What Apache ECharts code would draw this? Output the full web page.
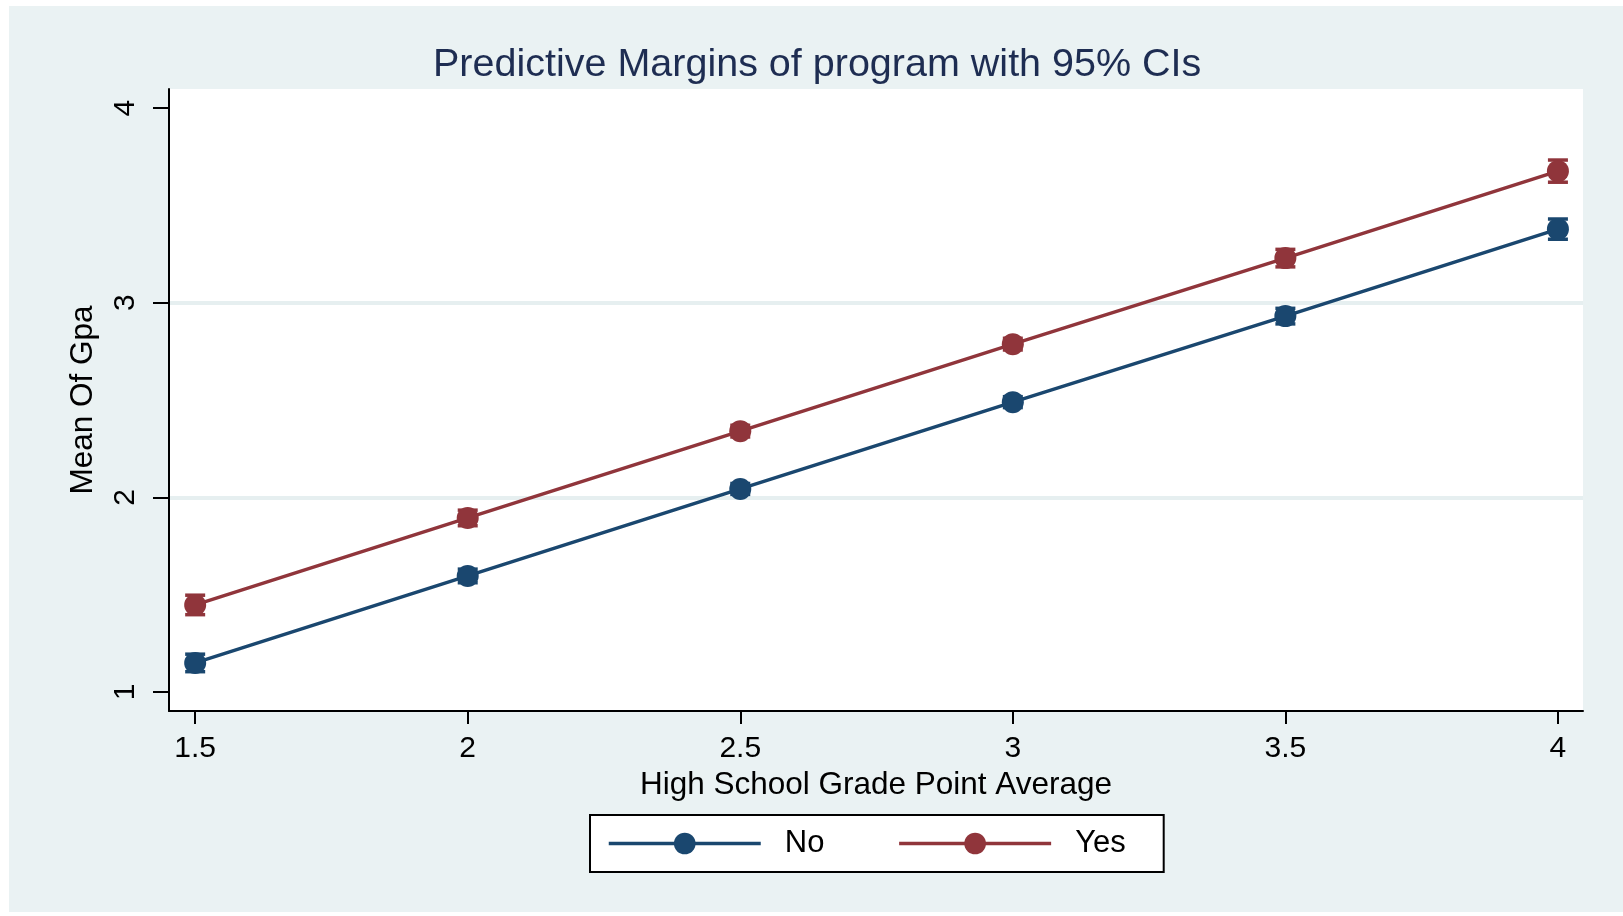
<!DOCTYPE html>
<html>
<head>
<meta charset="utf-8">
<title>Predictive Margins of program</title>
<script src="https://cdn.jsdelivr.net/npm/echarts@6/dist/echarts.min.js"></script>
<style>
  html, body { margin: 0; padding: 0; background: #fff; }
  #main { width: 1623px; height: 916px; }
</style>
</head>
<body>
<div id="main"></div>
<script>
// x categories / ticks
var gpaTicks = [1.5, 2, 2.5, 3, 3.5, 4];
var yTicks = [1, 2, 3, 4];

// predictive margins, program = No
var noMargins = [1.149, 1.596, 2.043, 2.489, 2.931, 3.378];
var noLower = [1.104, 1.561, 2.015, 2.461, 2.891, 3.326];
var noUpper = [1.194, 1.631, 2.071, 2.517, 2.971, 3.430];

// predictive margins, program = Yes
var yesMargins = [1.447, 1.894, 2.340, 2.787, 3.229, 3.676];
var yesLower = [1.397, 1.854, 2.310, 2.757, 3.184, 3.619];
var yesUpper = [1.497, 1.934, 2.370, 2.817, 3.274, 3.733];

var FONT = '"Liberation Sans", Arial, sans-serif';
var BLUE = '#1a476f';
var RED = '#90353b';

function pairs(xs, ys) {
    return xs.map(function (x, i) { return [x, ys[i]]; });
}

function ciData(xs, lo, hi) {
    return xs.map(function (x, i) { return [x, lo[i], hi[i]]; });
}

// draws the 95% CI capped spikes
function renderCI(color) {
    return function (params, api) {
        var x = api.value(0);
        var lo = api.coord([x, api.value(1)]);
        var hi = api.coord([x, api.value(2)]);
        var half = 10;
        var style = { stroke: color, lineWidth: 3.5 };
        return {
            type: 'group',
            children: [
                { type: 'line', shape: { x1: lo[0], y1: lo[1], x2: hi[0], y2: hi[1] }, style: style },
                { type: 'line', shape: { x1: lo[0] - half, y1: lo[1], x2: lo[0] + half, y2: lo[1] }, style: style },
                { type: 'line', shape: { x1: hi[0] - half, y1: hi[1], x2: hi[0] + half, y2: hi[1] }, style: style }
            ]
        };
    };
}

var myChart = echarts.init(document.getElementById('main'));

var option = {
    backgroundColor: '#ffffff',
    animation: false,
    graphic: [
        {
            type: 'rect',
            z: -10,
            silent: true,
            shape: { x: 9, y: 6, width: 1614, height: 906 },
            style: { fill: '#eaf2f3' }
        }
    ],
    title: {
        text: 'Predictive Margins of program with 95% CIs',
        left: 428,
        top: 40,
        textStyle: {
            fontFamily: FONT,
            fontSize: 39.5,
            fontWeight: 'normal',
            color: '#1e2d52'
        }
    },
    grid: {
        left: 169,
        top: 89,
        width: 1414,
        height: 622,
        show: true,
        backgroundColor: '#ffffff',
        borderWidth: 0
    },
    legend: {
        data: ['No', 'Yes'],
        left: 590,
        top: 815,
        orient: 'horizontal',
        itemWidth: 152,
        itemHeight: 27,
        itemGap: 73,
        padding: [13, 38, 13, 17],
        backgroundColor: '#ffffff',
        borderColor: '#000000',
        borderWidth: 2,
        borderRadius: 0,
        lineStyle: { width: 3.5 },
        textStyle: {
            fontFamily: FONT,
            fontSize: 31,
            color: '#000000',
            width: 60,
            padding: [0, 0, 0, 19]
        }
    },
    xAxis: {
        type: 'value',
        min: 1.452,
        max: 4.046,
        name: 'High School Grade Point Average',
        nameLocation: 'middle',
        nameGap: 55,
        nameTextStyle: { fontFamily: FONT, fontSize: 31.5, color: '#000' },
        axisLine: { show: true, onZero: false, lineStyle: { color: '#000', width: 2 } },
        axisTick: { show: true, length: 13, customValues: gpaTicks, lineStyle: { color: '#000', width: 2 } },
        axisLabel: {
            customValues: gpaTicks,
            margin: 23,
            fontFamily: FONT,
            fontSize: 30,
            color: '#000'
        },
        splitLine: { show: false }
    },
    yAxis: {
        type: 'value',
        min: 0.902,
        max: 4.098,
        splitNumber: 3,
        name: 'Mean Of Gpa',
        nameLocation: 'middle',
        nameRotate: 90,
        nameGap: 70,
        nameTextStyle: { fontFamily: FONT, fontSize: 31.5, color: '#000' },
        axisLine: { show: true, onZero: false, lineStyle: { color: '#000', width: 2 } },
        axisTick: { show: true, length: 16, customValues: yTicks, lineStyle: { color: '#000', width: 2 } },
        axisLabel: {
            customValues: yTicks,
            rotate: 90,
            margin: 28,
            fontFamily: FONT,
            fontSize: 30,
            color: '#000'
        },
        splitLine: {
            show: true,
            showMinLine: false,
            showMaxLine: false,
            lineStyle: { color: '#e6eff0', width: 4 }
        }
    },
    series: [
        {
            name: 'No',
            type: 'line',
            data: pairs(gpaTicks, noMargins),
            symbol: 'circle',
            symbolSize: 22,
            color: BLUE,
            lineStyle: { color: BLUE, width: 3.5 },
            itemStyle: { color: BLUE },
            z: 3
        },
        {
            name: 'Yes',
            type: 'line',
            data: pairs(gpaTicks, yesMargins),
            symbol: 'circle',
            symbolSize: 22,
            color: RED,
            lineStyle: { color: RED, width: 3.5 },
            itemStyle: { color: RED },
            z: 3
        },
        {
            name: 'No CI',
            type: 'custom',
            renderItem: renderCI(BLUE),
            data: ciData(gpaTicks, noLower, noUpper),
            encode: { x: 0, y: [1, 2] },
            z: 2
        },
        {
            name: 'Yes CI',
            type: 'custom',
            renderItem: renderCI(RED),
            data: ciData(gpaTicks, yesLower, yesUpper),
            encode: { x: 0, y: [1, 2] },
            z: 2
        }
    ]
};

myChart.setOption(option);
</script>
</body>
</html>
